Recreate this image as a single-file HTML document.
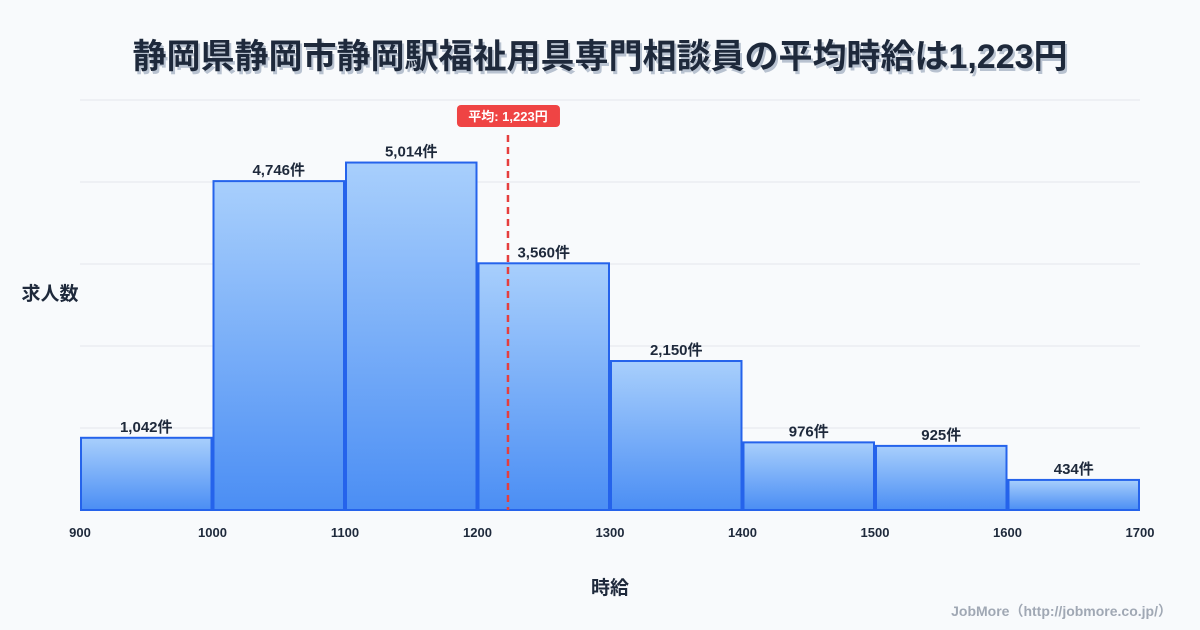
<!DOCTYPE html>
<html><head><meta charset="utf-8">
<style>
body{margin:0;background:#f8fafc;font-family:"Liberation Sans","Noto Sans CJK JP",sans-serif;}
#wrap{position:relative;width:1200px;height:630px;overflow:hidden;background:#f8fafc;}
</style></head>
<body>
<div id="wrap">
<svg id="svg" width="1200" height="630" xmlns="http://www.w3.org/2000/svg">
<defs>
<linearGradient id="g" x1="0" y1="0" x2="0" y2="1">
<stop offset="0" stop-color="#a8cffc"/><stop offset="1" stop-color="#4b8ef4"/>
</linearGradient>
</defs>
<text x="602" y="71" text-anchor="middle" font-size="34" font-weight="bold" fill="#b8c2d0">静岡県静岡市静岡駅福祉用具専門相談員の平均時給は1,223円</text>
<text x="600" y="68" text-anchor="middle" font-size="34" font-weight="bold" fill="#1e293b">静岡県静岡市静岡駅福祉用具専門相談員の平均時給は1,223円</text>
<text x="50" y="300" text-anchor="middle" font-size="19" font-weight="bold" fill="#1e293b">求人数</text>
<text x="610" y="594" text-anchor="middle" font-size="19" font-weight="bold" fill="#1e293b">時給</text>
<text x="1172" y="616" text-anchor="end" font-size="14" font-weight="bold" fill="#a0a8b4">JobMore（http://jobmore.co.jp/）</text>
<g id="grid"></g><g id="bars"></g><g id="xt"></g><g id="mean"></g>
</svg>
</div>
<script>
const binStarts=[900,1000,1100,1200,1300,1400,1500,1600];
const counts=[1042,4746,5014,3560,2150,976,925,434];
const countLabels=["1,042件","4,746件","5,014件","3,560件","2,150件","976件","925件","434件"];
const xTicks=[900,1000,1100,1200,1300,1400,1500,1600,1700];
const meanValue=1223;
const meanLabel="平均: 1,223円";
const NS="http://www.w3.org/2000/svg";
const X0=80,X1=1140,Y0=510,Y1=100,xmin=900,xmax=1700;
const ymax=Math.max(...counts)*1.18;
const xs=v=>X0+(v-xmin)/(xmax-xmin)*(X1-X0);
const ys=v=>Y0-v/ymax*(Y0-Y1);
function mk(t,a,p){const e=document.createElementNS(NS,t);for(const k in a)e.setAttribute(k,a[k]);p.appendChild(e);return e;}
const grid=document.getElementById('grid');
for(let i=0;i<=5;i++){const y=Y0-i*(Y0-Y1)/5;
const l=mk('line',{x1:X0,x2:X1,y1:y,y2:y,stroke:'#e5e7eb','stroke-width':1},grid);

}
const bars=document.getElementById('bars');
counts.forEach((c,i)=>{const x=xs(binStarts[i])+1,w=xs(binStarts[i]+100)-xs(binStarts[i])-2,y=ys(c);
const r=mk('rect',{x:x,y:y,width:w,height:Y0-y,fill:'url(#g)',stroke:'#2563eb','stroke-width':2},bars);


const t=mk('text',{x:x+w/2,y:y-6,'text-anchor':'middle','font-size':15,'font-weight':'bold',fill:'#1e293b'},bars);
t.textContent=countLabels[i];

});
const xt=document.getElementById('xt');
mk('line',{x1:X0,x2:X1,y1:Y0,y2:Y0,stroke:'#2563eb','stroke-width':1},xt);
xTicks.forEach(v=>{const t=mk('text',{x:xs(v),y:537,'text-anchor':'middle','font-size':13,'font-weight':'bold',fill:'#1e293b'},xt);
t.textContent=v;

});
const mg=document.getElementById('mean');const mx=xs(meanValue);
const ml=mk('line',{x1:mx,x2:mx,y1:135,y2:Y0,stroke:'#e53e3e','stroke-width':2.5,'stroke-dasharray':'7,5'},mg);


const mb=mk('rect',{x:mx-51,y:105,width:103,height:22,rx:4,fill:'#ef4444'},mg);


const mt=mk('text',{x:mx,y:121,'text-anchor':'middle','font-size':13,'font-weight':'bold',fill:'#fff'},mg);
mt.textContent=meanLabel;


</script>
</body></html>
